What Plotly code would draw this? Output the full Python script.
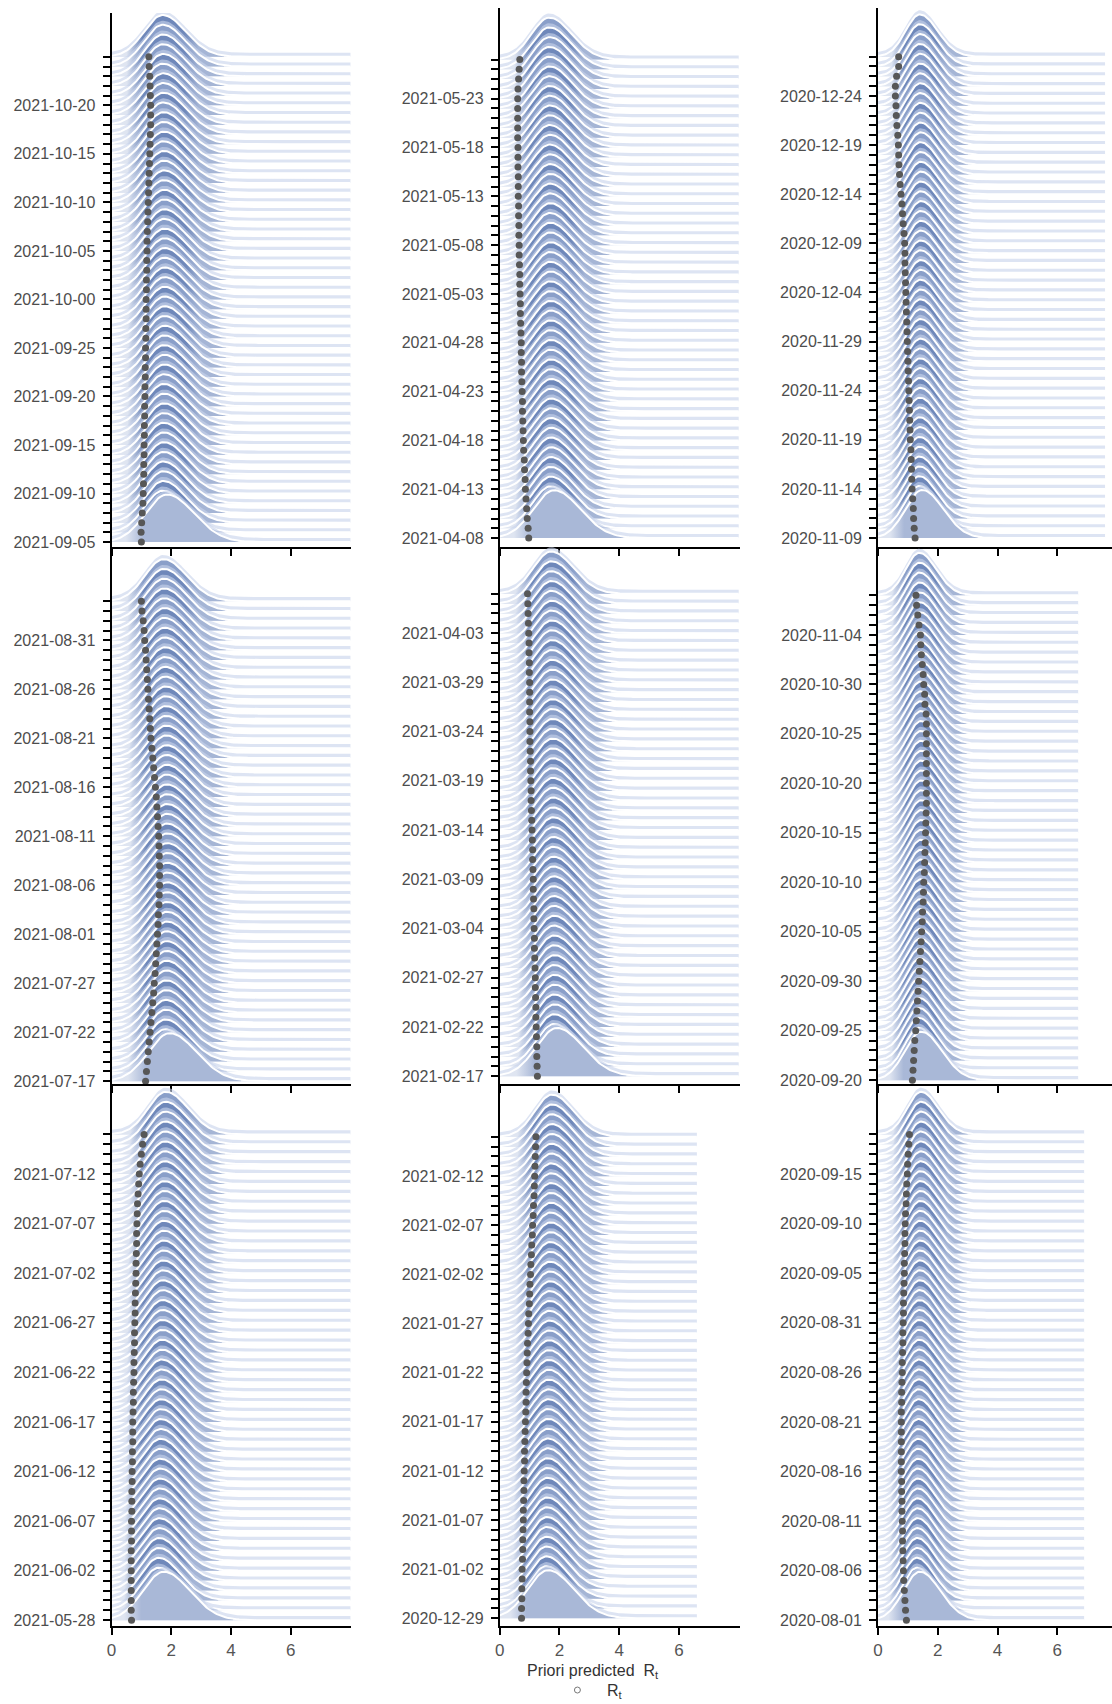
import numpy as np
import plotly.graph_objects as go

# ---- data -------------------------------------------------------------
# panels in reading order (row by row, left to right)
PANEL_START = ["2021-09-05", "2021-04-08", "2020-11-09",
               "2021-07-17", "2021-02-17", "2020-09-20",
               "2021-05-28", "2020-12-29", "2020-08-01"]

PANEL_LABELS = [
    ["2021-09-05", "2021-09-10", "2021-09-15", "2021-09-20", "2021-09-25",
     "2021-10-00", "2021-10-05", "2021-10-10", "2021-10-15", "2021-10-20"],
    ["2021-04-08", "2021-04-13", "2021-04-18", "2021-04-23", "2021-04-28",
     "2021-05-03", "2021-05-08", "2021-05-13", "2021-05-18", "2021-05-23"],
    ["2020-11-09", "2020-11-14", "2020-11-19", "2020-11-24", "2020-11-29",
     "2020-12-04", "2020-12-09", "2020-12-14", "2020-12-19", "2020-12-24"],
    ["2021-07-17", "2021-07-22", "2021-07-27", "2021-08-01", "2021-08-06",
     "2021-08-11", "2021-08-16", "2021-08-21", "2021-08-26", "2021-08-31"],
    ["2021-02-17", "2021-02-22", "2021-02-27", "2021-03-04", "2021-03-09",
     "2021-03-14", "2021-03-19", "2021-03-24", "2021-03-29", "2021-04-03"],
    ["2020-09-20", "2020-09-25", "2020-09-30", "2020-10-05", "2020-10-10",
     "2020-10-15", "2020-10-20", "2020-10-25", "2020-10-30", "2020-11-04"],
    ["2021-05-28", "2021-06-02", "2021-06-07", "2021-06-12", "2021-06-17",
     "2021-06-22", "2021-06-27", "2021-07-02", "2021-07-07", "2021-07-12"],
    ["2020-12-29", "2021-01-02", "2021-01-07", "2021-01-12", "2021-01-17",
     "2021-01-22", "2021-01-27", "2021-02-02", "2021-02-07", "2021-02-12"],
    ["2020-08-01", "2020-08-06", "2020-08-11", "2020-08-16", "2020-08-21",
     "2020-08-26", "2020-08-31", "2020-09-05", "2020-09-10", "2020-09-15"],
]

# observed R_t per day
RT_A = [1.00, 0.99, 1.01, 1.03, 1.05, 1.06, 1.07, 1.08, 1.08, 1.09,
        1.09, 1.10, 1.10, 1.11, 1.11, 1.12, 1.12, 1.13, 1.13, 1.14,
        1.14, 1.15, 1.15, 1.16, 1.16, 1.16, 1.17, 1.17, 1.18, 1.18,
        1.19, 1.19, 1.20, 1.21, 1.22, 1.23, 1.24, 1.25, 1.26, 1.27,
        1.28, 1.29, 1.30, 1.31, 1.31, 1.31, 1.30, 1.29, 1.28, 1.26,
        1.25]
RT_B = [0.97, 0.95, 0.92, 0.90, 0.88, 0.86, 0.85, 0.83, 0.82, 0.80,
        0.79, 0.78, 0.77, 0.76, 0.76, 0.75, 0.74, 0.73, 0.73, 0.72,
        0.72, 0.71, 0.70, 0.69, 0.69, 0.68, 0.67, 0.67, 0.66, 0.65,
        0.65, 0.64, 0.64, 0.63, 0.63, 0.62, 0.62, 0.62, 0.61, 0.61,
        0.61, 0.60, 0.60, 0.60, 0.60, 0.60, 0.61, 0.63, 0.65, 0.67]
RT_C = [1.24, 1.21, 1.19, 1.18, 1.16, 1.14, 1.13, 1.12, 1.11, 1.10,
        1.08, 1.07, 1.06, 1.05, 1.04, 1.03, 1.02, 1.01, 1.00, 0.99,
        0.98, 0.97, 0.96, 0.95, 0.94, 0.93, 0.92, 0.91, 0.90, 0.90,
        0.89, 0.87, 0.84, 0.82, 0.80, 0.77, 0.74, 0.72, 0.70, 0.69,
        0.68, 0.66, 0.63, 0.61, 0.60, 0.58, 0.58, 0.62, 0.69, 0.69]
RT_D = [1.14, 1.17, 1.20, 1.23, 1.26, 1.29, 1.32, 1.35, 1.38, 1.41,
        1.43, 1.46, 1.48, 1.50, 1.52, 1.54, 1.56, 1.57, 1.59, 1.60,
        1.61, 1.61, 1.61, 1.60, 1.59, 1.58, 1.56, 1.54, 1.52, 1.50,
        1.47, 1.44, 1.41, 1.38, 1.35, 1.32, 1.30, 1.28, 1.26, 1.24,
        1.22, 1.20, 1.18, 1.16, 1.14, 1.11, 1.09, 1.06, 1.02, 1.00]
RT_E = [1.26, 1.25, 1.24, 1.24, 1.23, 1.22, 1.21, 1.21, 1.20, 1.19,
        1.19, 1.18, 1.17, 1.16, 1.16, 1.15, 1.14, 1.14, 1.13, 1.12,
        1.12, 1.11, 1.10, 1.10, 1.09, 1.08, 1.07, 1.06, 1.05, 1.05,
        1.04, 1.03, 1.03, 1.02, 1.01, 1.01, 1.01, 1.00, 1.00, 1.00,
        1.00, 0.99, 0.99, 0.98, 0.98, 0.97, 0.96, 0.95, 0.94, 0.93]
RT_F = [1.15, 1.17, 1.19, 1.21, 1.23, 1.26, 1.28, 1.30, 1.32, 1.34,
        1.36, 1.38, 1.40, 1.42, 1.44, 1.46, 1.48, 1.49, 1.51, 1.52,
        1.53, 1.55, 1.56, 1.57, 1.58, 1.59, 1.60, 1.61, 1.62, 1.62,
        1.62, 1.62, 1.62, 1.62, 1.62, 1.62, 1.62, 1.61, 1.57, 1.56,
        1.53, 1.51, 1.48, 1.45, 1.43, 1.42, 1.37, 1.33, 1.29, 1.27]
RT_G = [0.67, 0.66, 0.66, 0.66, 0.66, 0.66, 0.66, 0.66, 0.67, 0.67,
        0.67, 0.68, 0.68, 0.68, 0.69, 0.69, 0.70, 0.70, 0.71, 0.71,
        0.71, 0.72, 0.73, 0.73, 0.74, 0.75, 0.75, 0.76, 0.77, 0.77,
        0.78, 0.79, 0.79, 0.80, 0.81, 0.82, 0.82, 0.83, 0.84, 0.84,
        0.85, 0.86, 0.87, 0.89, 0.91, 0.93, 0.96, 1.00, 1.04, 1.09]
RT_H = [0.73, 0.73, 0.74, 0.74, 0.75, 0.75, 0.76, 0.77, 0.77, 0.78,
        0.79, 0.79, 0.80, 0.81, 0.81, 0.82, 0.83, 0.83, 0.84, 0.85,
        0.86, 0.87, 0.88, 0.88, 0.89, 0.90, 0.91, 0.92, 0.93, 0.95,
        0.96, 0.97, 0.99, 1.00, 1.01, 1.03, 1.04, 1.06, 1.07, 1.09,
        1.10, 1.12, 1.13, 1.15, 1.16, 1.17, 1.18, 1.19, 1.20, 1.21]
RT_I = [0.95, 0.92, 0.90, 0.88, 0.86, 0.85, 0.84, 0.83, 0.82, 0.82,
        0.81, 0.80, 0.80, 0.79, 0.79, 0.78, 0.78, 0.78, 0.78, 0.78,
        0.78, 0.78, 0.79, 0.79, 0.80, 0.81, 0.81, 0.82, 0.83, 0.83,
        0.84, 0.85, 0.85, 0.86, 0.87, 0.88, 0.88, 0.89, 0.90, 0.90,
        0.91, 0.92, 0.94, 0.95, 0.96, 0.98, 0.99, 1.01, 1.03, 1.05]
RT_OBS = [RT_A, RT_B, RT_C, RT_D, RT_E, RT_F, RT_G, RT_H, RT_I]

# mode of the priori predicted R_t distribution per day
MODE_A = [1.86, 1.72, 1.73, 1.74, 1.73, 1.74, 1.75, 1.75, 1.74, 1.75,
          1.76, 1.76, 1.75, 1.76, 1.77, 1.77, 1.76, 1.77, 1.78, 1.77,
          1.78, 1.78, 1.77, 1.78, 1.78, 1.77, 1.78, 1.77, 1.77, 1.76,
          1.77, 1.76, 1.76, 1.75, 1.76, 1.75, 1.75, 1.74, 1.75, 1.74,
          1.74, 1.73, 1.74, 1.73, 1.73, 1.72, 1.73, 1.72, 1.72, 1.71,
          1.71]
MODE_B = [1.82, 1.70, 1.71, 1.70, 1.71, 1.72, 1.71, 1.72, 1.71, 1.72,
          1.72, 1.71, 1.72, 1.71, 1.71, 1.70, 1.71, 1.70, 1.70, 1.71,
          1.70, 1.70, 1.69, 1.70, 1.69, 1.69, 1.70, 1.69, 1.69, 1.68,
          1.69, 1.68, 1.68, 1.69, 1.68, 1.68, 1.67, 1.68, 1.67, 1.67,
          1.68, 1.67, 1.67, 1.66, 1.67, 1.66, 1.66, 1.67, 1.66, 1.66]
MODE_C = [1.48, 1.38, 1.38, 1.39, 1.38, 1.39, 1.39, 1.40, 1.39, 1.40,
          1.40, 1.41, 1.40, 1.41, 1.41, 1.41, 1.42, 1.41, 1.42, 1.42,
          1.42, 1.43, 1.42, 1.43, 1.43, 1.42, 1.43, 1.43, 1.44, 1.43,
          1.44, 1.43, 1.43, 1.44, 1.43, 1.43, 1.42, 1.43, 1.42, 1.42,
          1.42, 1.41, 1.42, 1.41, 1.41, 1.41, 1.40, 1.41, 1.40, 1.40]
MODE_D = [1.95, 1.80, 1.81, 1.82, 1.82, 1.83, 1.83, 1.84, 1.84, 1.85,
          1.85, 1.85, 1.86, 1.86, 1.86, 1.86, 1.87, 1.87, 1.87, 1.87,
          1.87, 1.87, 1.86, 1.86, 1.86, 1.86, 1.85, 1.85, 1.85, 1.84,
          1.84, 1.83, 1.83, 1.82, 1.82, 1.81, 1.81, 1.80, 1.80, 1.79,
          1.79, 1.78, 1.78, 1.77, 1.77, 1.76, 1.76, 1.75, 1.75, 1.74]
MODE_E = [1.92, 1.82, 1.82, 1.83, 1.82, 1.83, 1.83, 1.82, 1.83, 1.82,
          1.82, 1.81, 1.82, 1.81, 1.81, 1.80, 1.81, 1.80, 1.80, 1.79,
          1.80, 1.79, 1.79, 1.78, 1.79, 1.78, 1.78, 1.77, 1.78, 1.77,
          1.77, 1.76, 1.77, 1.76, 1.76, 1.75, 1.76, 1.75, 1.75, 1.74,
          1.75, 1.74, 1.74, 1.73, 1.74, 1.73, 1.73, 1.72, 1.73, 1.72]
MODE_F = [1.45, 1.36, 1.37, 1.37, 1.38, 1.38, 1.39, 1.39, 1.40, 1.40,
          1.41, 1.41, 1.42, 1.42, 1.42, 1.43, 1.43, 1.43, 1.44, 1.44,
          1.44, 1.44, 1.45, 1.45, 1.45, 1.45, 1.45, 1.45, 1.45, 1.45,
          1.44, 1.44, 1.44, 1.44, 1.43, 1.43, 1.43, 1.42, 1.42, 1.42,
          1.41, 1.41, 1.41, 1.40, 1.40, 1.40, 1.39, 1.39, 1.39, 1.38]
MODE_G = [1.75, 1.58, 1.58, 1.59, 1.59, 1.60, 1.60, 1.61, 1.61, 1.62,
          1.62, 1.63, 1.63, 1.64, 1.64, 1.65, 1.65, 1.66, 1.66, 1.67,
          1.67, 1.68, 1.68, 1.69, 1.69, 1.70, 1.70, 1.71, 1.71, 1.72,
          1.72, 1.73, 1.73, 1.74, 1.74, 1.75, 1.75, 1.76, 1.76, 1.77,
          1.77, 1.78, 1.78, 1.79, 1.79, 1.80, 1.80, 1.81, 1.81, 1.82]
MODE_H = [1.62, 1.56, 1.56, 1.57, 1.57, 1.58, 1.58, 1.58, 1.59, 1.59,
          1.60, 1.60, 1.60, 1.61, 1.61, 1.62, 1.62, 1.62, 1.63, 1.63,
          1.64, 1.64, 1.64, 1.65, 1.65, 1.66, 1.66, 1.66, 1.67, 1.67,
          1.68, 1.68, 1.68, 1.69, 1.69, 1.70, 1.70, 1.70, 1.71, 1.71,
          1.72, 1.72, 1.72, 1.73, 1.73, 1.74, 1.74, 1.74, 1.75, 1.75]
MODE_I = [1.40, 1.30, 1.30, 1.31, 1.31, 1.31, 1.32, 1.32, 1.32, 1.33,
          1.33, 1.33, 1.34, 1.34, 1.34, 1.35, 1.35, 1.35, 1.36, 1.36,
          1.36, 1.37, 1.37, 1.37, 1.38, 1.38, 1.38, 1.39, 1.39, 1.39,
          1.40, 1.40, 1.40, 1.40, 1.41, 1.41, 1.41, 1.41, 1.42, 1.42,
          1.42, 1.42, 1.43, 1.43, 1.43, 1.43, 1.44, 1.44, 1.44, 1.44]
PRIOR_MODE = [MODE_A, MODE_B, MODE_C, MODE_D, MODE_E, MODE_F, MODE_G, MODE_H, MODE_I]

# spread of the priori distribution: first day of each window, and the rest
PRIOR_SD_FIRST = [0.72, 0.70, 0.56, 0.72, 0.70, 0.55, 0.70, 0.68, 0.55]
PRIOR_SD = [0.62, 0.60, 0.48, 0.62, 0.60, 0.46, 0.60, 0.58, 0.47]
# right end of each density's support
PANEL_XMAX = [8.0, 8.0, 7.6, 8.0, 8.0, 6.7, 8.0, 6.6, 6.9]

# ---- style / geometry -------------------------------------------------
W, H = 1112, 1704
FONT = "Liberation Sans, Arial, sans-serif"
COL_PX = [(107, 348), (497, 738), (877, 1112)]
# panel frame (top, bottom) in px, per panel
FRAME_PX = [(13, 549), (8, 549), (8, 549),
            (549, 1088), (549, 1088), (549, 1088),
            (1088, 1632), (1088, 1632), (1088, 1632)]
# pixel row of the first day's baseline and px per day, per panel
BASE_PX = [544, 540, 540, 1085, 1080, 1084, 1626, 1624, 1626]
DAY_PX = [9.74, 9.80, 9.86, 9.83, 9.88, 9.93, 9.95, 9.86, 9.95]
PX_PER_UNIT = 30.0

RIDGE_H = 4.3        # peak height in day-rows
RIDGE_H_FIRST = 4.9
SKEW = 1.25          # right / left spread
HALO = 0.42
HALO_COLOR = "rgba(200,212,235,0.62)"
LIGHT = "#dfe5f1"
MID = "#a5b5d5"
FRONT = "#a9b8d7"
DARK = ["#6f88ba", "#8a9fc9"]
DOT = "#575757"


def shape(x, mode, sd):
    z = np.where(x < mode, (x - mode) / sd, (x - mode) / (sd * SKEW))
    return np.exp(-0.5 * z * z)


def quantiles(mode, sd, probs):
    g = np.linspace(0, mode + 8 * sd * SKEW, 4000)
    d = shape(g, mode, sd)
    c = np.cumsum(d)
    c = c / c[-1]
    return [float(np.interp(p, c, g)) for p in probs]


def gradient(stops, xmax):
    out, last = [], -1.0
    for xv, col in stops:
        f = min(max(xv / xmax, 0.0), 1.0)
        if f <= last:
            f = min(last + 1e-4, 1.0)
        if f <= last:
            continue
        out.append([round(f, 5), col])
        last = f
    out[0][0] = 0.0
    out[-1][0] = 1.0
    return out


fig = go.Figure()
layout_axes = {}

for p in range(9):
    r, c = divmod(p, 3)
    sfx = "" if p == 0 else str(p + 1)
    xref, yref = "x" + sfx, "y" + sfx
    x0px, x1px = COL_PX[c]
    y0px, y1px = FRAME_PX[p]
    xr = (x1px - x0px) / PX_PER_UNIT
    xmax = min(PANEL_XMAX[p], xr)
    n_days = len(RT_OBS[p])
    yrange = [-(y1px - BASE_PX[p]) / DAY_PX[p], (BASE_PX[p] - y0px) / DAY_PX[p]]

    for i in reversed(range(n_days)):
        mode = PRIOR_MODE[p][i]
        sd = PRIOR_SD_FIRST[p] if i == 0 else PRIOR_SD[p]
        hgt = RIDGE_H_FIRST if i == 0 else RIDGE_H
        xcut = min(xmax - 0.05, mode + 5.2 * sd * SKEW)
        xs = np.r_[np.linspace(0, xcut, 110), xmax]
        top = i + hgt * shape(xs, mode, sd)
        base = np.full(xs.size, float(i))

        # light rim above the curve (also forms the thin tail bands)
        fig.add_trace(go.Scatter(
            x=np.round(np.r_[xs, xs[::-1]], 3),
            y=np.round(np.r_[top + HALO, base[::-1]], 3),
            fill="toself", fillcolor=HALO_COLOR, mode="lines",
            line=dict(width=0), hoverinfo="skip", showlegend=False,
            xaxis=xref, yaxis=yref))

        q02, q12, q80, q93, q995 = quantiles(mode, sd, [0.02, 0.12, 0.80, 0.93, 0.995])
        if i == 0:
            stops = [(0, LIGHT), (q02, LIGHT), (q12, FRONT), (q995, FRONT),
                     (q995 + 0.03, LIGHT), (xmax, LIGHT)]
        else:
            dk = DARK[i % 2]
            stops = [(0, LIGHT), (q02, LIGHT), (q12, dk), (q80, dk), (q93, MID),
                     (q995, MID), (q995 + 0.03, LIGHT), (xmax, LIGHT)]
        fig.add_trace(go.Scatter(
            x=np.round(np.r_[xs, xs[::-1]], 3),
            y=np.round(np.r_[top, base[::-1]], 3),
            fill="toself",
            fillgradient=dict(type="horizontal", colorscale=gradient(stops, xmax),
                              start=0, stop=xmax),
            mode="lines", line=dict(width=0), hoverinfo="skip", showlegend=False,
            xaxis=xref, yaxis=yref))

        fig.add_trace(go.Scatter(
            x=np.round(xs, 3), y=np.round(top, 3), mode="lines",
            line=dict(color="white", width=2), hoverinfo="skip", showlegend=False,
            xaxis=xref, yaxis=yref))

    fig.add_trace(go.Scatter(
        x=RT_OBS[p], y=list(range(n_days)), mode="markers",
        marker=dict(color=DOT, size=7), showlegend=False,
        xaxis=xref, yaxis=yref))

    labels = PANEL_LABELS[p]
    ticktext = [labels[i // 5] if (i % 5 == 0 and i // 5 < len(labels)) else ""
                for i in range(n_days)]
    layout_axes["xaxis" + sfx] = dict(
        domain=[x0px / W, x1px / W], range=[0, xr], anchor=yref,
        showline=True, linecolor="black", linewidth=2,
        ticks="outside", ticklen=7, tickwidth=2, tickcolor="black",
        tickvals=[0, 2, 4, 6], showticklabels=(r == 2),
        tickfont=dict(family=FONT, size=17, color="#555555"),
        showgrid=False, zeroline=False, fixedrange=True)
    layout_axes["yaxis" + sfx] = dict(
        domain=[1 - y1px / H, 1 - y0px / H], range=yrange, anchor=xref,
        showline=True, linecolor="black", linewidth=2,
        ticks="outside", ticklen=7, tickwidth=2, tickcolor="black",
        tickvals=list(range(n_days)), ticktext=ticktext, ticklabelstandoff=4,
        tickfont=dict(family=FONT, size=16, color="#4d4d4d"),
        showgrid=False, zeroline=False, fixedrange=True)

fig.update_layout(
    width=W, height=H, margin=dict(l=0, r=0, t=0, b=0),
    paper_bgcolor="white", plot_bgcolor="white",
    font=dict(family=FONT, color="#333333"),
    showlegend=False,
    **layout_axes,
)

# axis caption and marker key under the bottom-middle panel
fig.add_annotation(x=591 / W, y=1 - 1677 / H, xref="paper", yref="paper",
                   text="Priori predicted  R<sub>t</sub>", showarrow=False,
                   xanchor="center", yanchor="middle",
                   font=dict(family=FONT, size=16, color="#333333"))
fig.add_annotation(x=603 / W, y=1 - 1697 / H, xref="paper", yref="paper",
                   text="R<sub>t</sub>", showarrow=False,
                   xanchor="left", yanchor="middle",
                   font=dict(family=FONT, size=16, color="#333333"))
fig.add_shape(type="circle", xref="paper", yref="paper",
              x0=572 / W, x1=578 / W, y0=1 - 1699 / H, y1=1 - 1693 / H,
              line=dict(color="#777777", width=1), fillcolor="white")

fig.write_html("out.html")
